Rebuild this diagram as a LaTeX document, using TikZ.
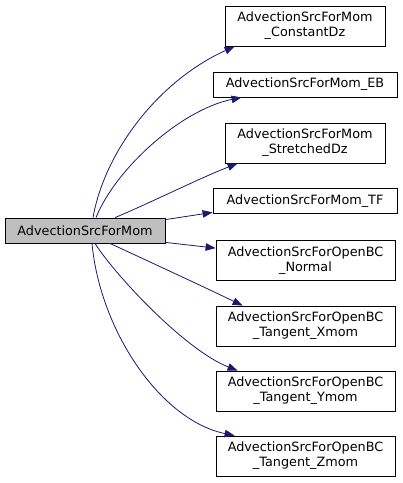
\documentclass[tikz,border=0pt]{standalone}
\usepackage{fontspec}
\setmainfont{DejaVu Sans}
\usetikzlibrary{arrows.meta,calc}
\definecolor{edgeblue}{HTML}{191970}
\definecolor{srcgray}{HTML}{BFBFBF}
\begin{document}
\begin{tikzpicture}[x=1pt,y=-1pt,
  box/.style={draw=black, line width=0.8pt, fill=white, inner sep=0pt, align=center,
    font=\fontsize{12.8}{15}\selectfont},
  srcbox/.style={box, fill=srcgray},
  edge/.style={draw=edgeblue, line width=0.8pt, -{Triangle[length=10pt,width=7.5pt]}}]
\useasboundingbox (0,0) rectangle (403,483);

\node[srcbox, minimum width=160pt, minimum height=25pt] (s) at (85,230.5) {AdvectionSrcForMom};

\node[box, minimum width=160pt, minimum height=40pt] (t1) at (305,26) {AdvectionSrcForMom\\\_ConstantDz};
\node[box, minimum width=184pt, minimum height=25pt] (t2) at (305,84.5) {AdvectionSrcForMom\_EB};
\node[box, minimum width=160pt, minimum height=40pt] (t3) at (305,143) {AdvectionSrcForMom\\\_StretchedDz};
\node[box, minimum width=184pt, minimum height=25pt] (t4) at (305,201) {AdvectionSrcForMom\_TF};
\node[box, minimum width=179pt, minimum height=40pt] (t5) at (305.5,260.5) {AdvectionSrcForOpenBC\\\_Normal};
\node[box, minimum width=179pt, minimum height=40pt] (t6) at (305.5,326) {AdvectionSrcForOpenBC\\\_Tangent\_Xmom};
\node[box, minimum width=179pt, minimum height=40pt] (t7) at (305.5,391) {AdvectionSrcForOpenBC\\\_Tangent\_Ymom};
\node[box, minimum width=179pt, minimum height=40pt] (t8) at (305.5,456) {AdvectionSrcForOpenBC\\\_Tangent\_Zmom};

\draw[edge] ([xshift=8pt]s.north) .. controls (105,150) and (160,80) .. ([xshift=10pt]t1.south west);
\draw[edge] ([xshift=11pt]s.north) .. controls (115,170) and (180,110) .. ([xshift=29pt]t2.south west);
\draw[edge] ([xshift=30pt]s.north) .. controls (150,203) and (200,178) .. ([xshift=13pt]t3.south west);
\draw[edge] ([yshift=-2pt]s.north east) -- ([yshift=1.5pt]t4.south west);
\draw[edge] ([yshift=1pt]s.south east) -- ([yshift=-8pt]t5.north west);
\draw[edge] ([xshift=25pt]s.south) .. controls (150,262) and (200,285) .. ([xshift=27pt]t6.north west);
\draw[edge] ([xshift=10pt]s.south) .. controls (115,275) and (185,350) .. ([xshift=22pt]t7.north west);
\draw[edge] ([xshift=7pt]s.south) .. controls (100,330) and (160,420) .. ([xshift=19pt]t8.north west);
\end{tikzpicture}
\end{document}
